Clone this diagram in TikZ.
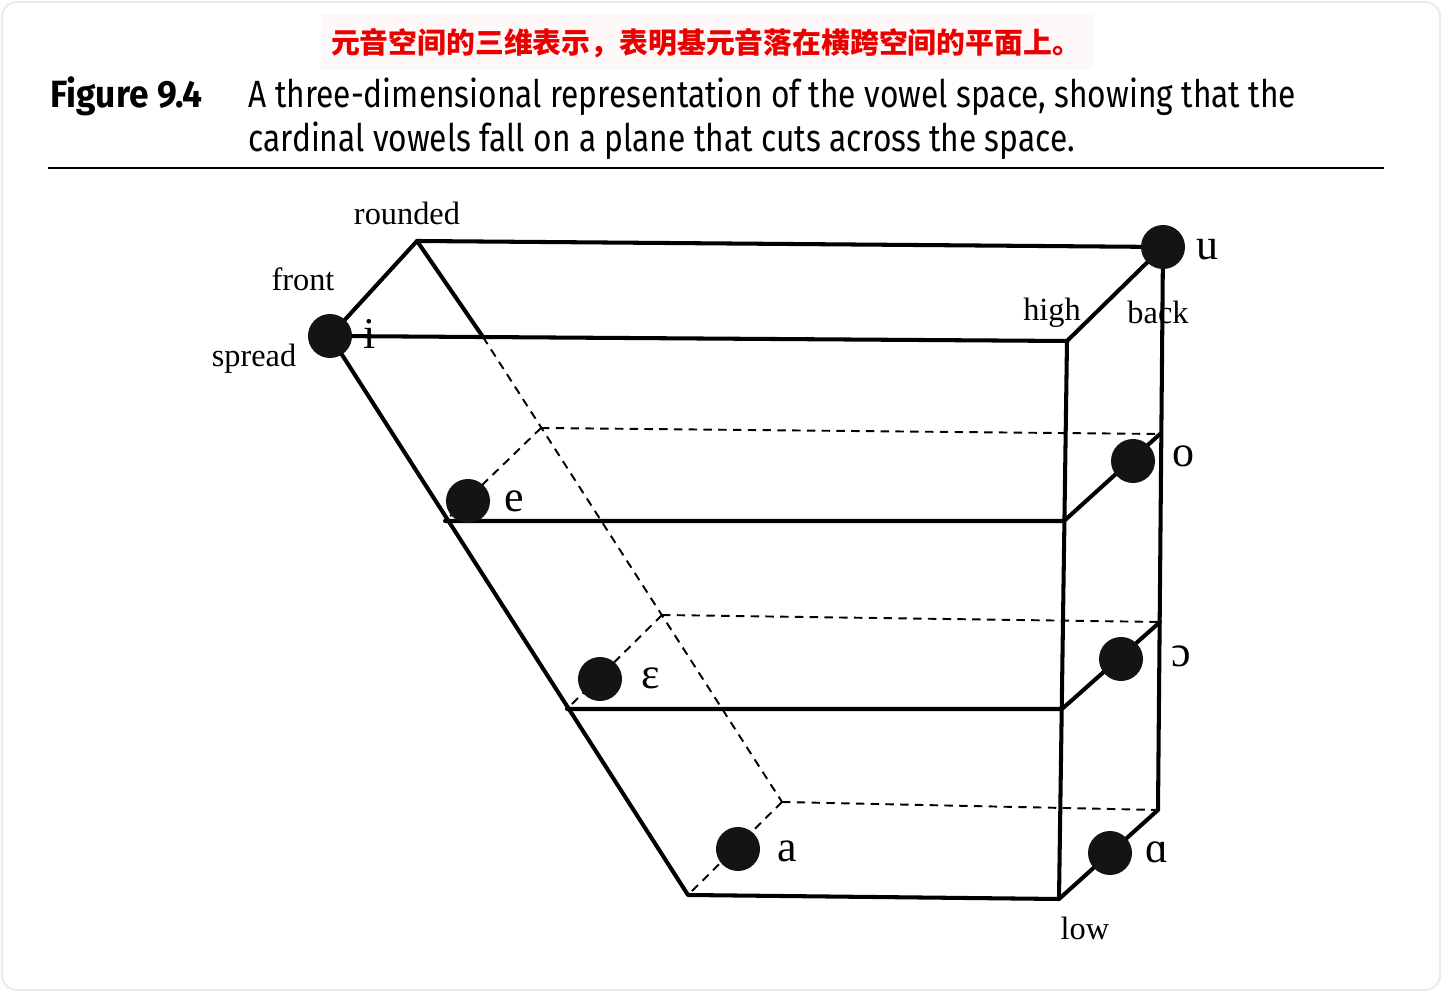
\documentclass[tikz,border=0pt]{standalone}
\usepackage{fontspec}
\setmainfont{Liberation Serif}
\newfontfamily\cjk{Noto Sans CJK SC}
\newfontfamily\capfont[FakeStretch=0.835]{Fira Sans}
\newfontfamily\capfontb[FakeStretch=0.93]{Fira Sans Bold}
\definecolor{cjkred}{RGB}{235,0,0}
\definecolor{pinkbg}{RGB}{255,248,248}
\definecolor{framegray}{RGB}{235,235,235}
\begin{document}
\begin{tikzpicture}[x=0.01cm,y=-0.01cm,
  edge/.style={line width=1.15pt,line cap=round,line join=round},
  hid/.style={line width=0.55pt,dash pattern=on 2.4pt off 1.8pt},
  dot/.style={circle,fill=black!92,minimum size=0.44cm,inner sep=0pt},
  lab/.style={font=\fontsize{9.2pt}{10pt}\selectfont,inner sep=0pt},
  vow/.style={font=\fontsize{12.5pt}{14pt}\selectfont,inner sep=0pt,anchor=base}]
\useasboundingbox (0,0) rectangle (1442,992);
\draw[framegray,line width=0.6pt,rounded corners=0.15cm] (2,2) rectangle (1440,990);
% Chinese header
\node[fill=pinkbg,minimum width=7.71cm,minimum height=0.56cm,inner sep=0pt] (cjkbox) at (707,42) {};
\node[text=cjkred,font=\cjk\bfseries\fontsize{8.2pt}{9pt}\selectfont,inner sep=0pt] (cjktext) at (706,43) {元音空间的三维表示，表明基元音落在横跨空间的平面上。};
% caption
\node[anchor=base west,inner sep=0pt,font=\capfontb\fontsize{10.8pt}{12pt}\selectfont] (fig) at (50,108) {Figure 9.4};
\node[anchor=base west,inner sep=0pt,font=\capfont\fontsize{10.8pt}{12pt}\selectfont] (cap1) at (248,108) {A three-dimensional representation of the vowel space, showing that the};
\node[anchor=base west,inner sep=0pt,font=\capfont\fontsize{10.8pt}{12pt}\selectfont] (cap2) at (248,152) {cardinal vowels fall on a plane that cuts across the space.};
\coordinate (r1) at (48,168);
\coordinate (r2) at (1384,168);
\draw[line width=0.8pt] (r1) -- (r2);
% corners
\coordinate (TBL) at (417,241);
\coordinate (TBR) at (1163,247);
\coordinate (TFL) at (330,336);
\coordinate (TFR) at (1067,341);
\coordinate (BFL) at (688,895);
\coordinate (BFR) at (1059,899);
\coordinate (BBR) at (1158,810);
\coordinate (BBL) at (782,802);
\coordinate (X) at (483,337);
\coordinate (EL) at (445,521);
\coordinate (ER) at (1064,521);
\coordinate (OB) at (1160,434);
\coordinate (EB) at (541,428);
\coordinate (CL) at (567,709);
\coordinate (CR) at (1062,709);
\coordinate (CB) at (1160,622);
\coordinate (CBL) at (662,615);
% hidden lines
\draw[hid] (X) -- (BBL);
\draw[hid] (EB) -- (OB);
\draw[hid] (EB) -- (EL);
\draw[hid] (CBL) -- (CB);
\draw[hid] (CBL) -- (CL);
\draw[hid] (BBL) -- (BBR);
\draw[hid] (BBL) -- (BFL);
% visible edges
\draw[edge] (TFL) -- (TBL) -- (TBR);
\draw[edge] (TBL) -- (X);
\draw[edge] (TFL) -- (TFR) -- (TBR);
\draw[edge] (TFL) -- (BFL) -- (BFR) -- (TFR);
\draw[edge] (TBR) -- (BBR) -- (BFR);
\draw[edge] (EL) -- (ER) -- (OB);
\draw[edge] (CL) -- (CR) -- (CB);
% dots
\node[dot] (di) at (330,336) {};
\node[dot] (du) at (1163,247) {};
\node[dot] (de) at (468,501) {};
\node[dot] (do) at (1133,461) {};
\node[dot] (deps) at (600,679) {};
\node[dot] (dopen) at (1121,659) {};
\node[dot] (da) at (738,849) {};
\node[dot] (dalpha) at (1110,853) {};
% vowel labels
\node[vow] (li) at (370,349) {i};
\node[vow] (lu) at (1207,260) {u};
\node[vow] (le) at (514,512) {e};
\node[vow] (lo) at (1183,467) {o};
\node[vow] (leps) at (651,689) {ɛ};
\node[vow] (lopen) at (1181,667) {ɔ};
\node[vow] (la) at (787,862) {a};
\node[vow] (lalpha) at (1157,863) {ɑ};
% dimension labels
\node[lab] (lrounded) at (407,213) {rounded};
\node[lab] (lfront) at (303,279) {front};
\node[lab] (lspread) at (254,359) {spread};
\node[lab] (lhigh) at (1052,313) {high};
\node[lab] (lback) at (1158,312) {back};
\node[lab] (llow) at (1085,928) {low};
\end{tikzpicture}
\end{document}
